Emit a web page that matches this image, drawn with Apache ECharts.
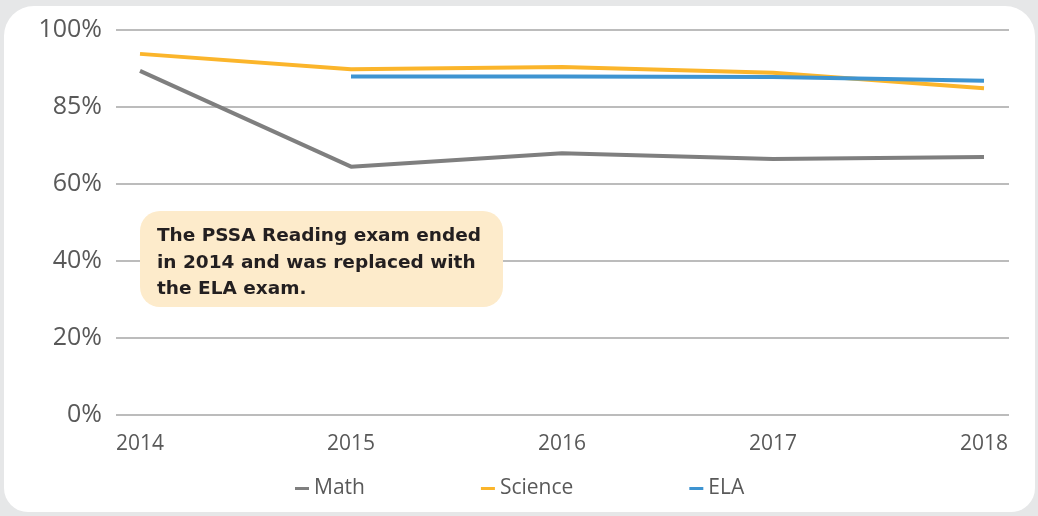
<!DOCTYPE html>
<html>
<head>
<meta charset="utf-8">
<script src="https://cdn.jsdelivr.net/npm/echarts@6/dist/echarts.min.js"></script>
<style>
  html, body { margin: 0; padding: 0; background: #e6e7e8; }
  #panel { position: absolute; left: 4px; top: 6px; width: 1031px; height: 506px; background: #fff; border-radius: 30px 30px 24px 24px; }
  #chart { position: absolute; left: 0; top: 0; width: 1038px; height: 516px; }
</style>
</head>
<body>
<div id="panel"></div>
<div id="chart"></div>
<script>
// data
const years = ['2014', '2015', '2016', '2017', '2018'];
const mathScores = [89.4, 64.5, 68.0, 66.5, 67.0];
const scienceScores = [93.8, 89.8, 90.4, 88.9, 84.9];
const elaScores = [null, 87.9, 87.9, 87.8, 86.8];
// the original axis labels (the fourth one reads 85%)
const yTickLabels = ['0%', '20%', '40%', '60%', '85%', '100%'];
const note = 'The PSSA Reading exam ended\nin 2014 and was replaced with\nthe ELA exam.';

const font = '"Open Sans", sans-serif';
const grey = '#595959';

const chart = echarts.init(document.getElementById('chart'));

const option = {
  backgroundColor: 'transparent',
  textStyle: { fontFamily: font },
  animation: false,
  grid: [
    { left: 116, right: 29, top: 30, bottom: 101 },
    { left: 140, right: 54, top: 30, bottom: 101 }
  ],
  xAxis: [
    { gridIndex: 0, type: 'value', min: 0, max: 1, show: false },
    {
      gridIndex: 1,
      type: 'category',
      data: years,
      boundaryGap: false,
      axisLine: { show: false },
      axisTick: { show: false },
      axisLabel: { color: grey, fontSize: 21, margin: 19, fontFamily: font }
    }
  ],
  yAxis: [
    {
      gridIndex: 0,
      type: 'value',
      min: 0,
      max: 100,
      interval: 20,
      axisLine: { show: false },
      axisTick: { show: false },
      axisLabel: {
        color: grey,
        fontSize: 25,
        margin: 14,
        fontFamily: font,
        formatter: v => yTickLabels[Math.round(v / 20)]
      },
      splitLine: { lineStyle: { color: '#a6a6a6', width: 1.5 } }
    },
    { gridIndex: 1, type: 'value', min: 0, max: 100, show: false }
  ],
  legend: {
    left: 290,
    top: 473,
    itemGap: 116,
    itemWidth: 14,
    itemHeight: 3,
    icon: 'rect',
    textStyle: { color: grey, fontSize: 21, fontFamily: font },
    data: ['Math', 'Science', 'ELA']
  },
  graphic: [
    {
      type: 'group',
      left: 140,
      top: 211,
      z: 100,
      children: [
        {
          type: 'rect',
          z: 100,
          shape: { x: 0, y: 0, width: 363, height: 96, r: 20 },
          style: { fill: '#fdebcb' }
        },
        {
          type: 'text',
          z: 101,
          left: 17,
          top: 12,
          style: {
            text: note,
            fill: '#231f20',
            font: 'bold 18.5px "DejaVu Sans", sans-serif',
            lineHeight: 26.5
          }
        }
      ]
    }
  ],
  series: [
    {
      name: 'Math',
      type: 'line',
      xAxisIndex: 1,
      yAxisIndex: 1,
      data: mathScores,
      symbol: 'none',
      lineStyle: { color: '#7f7f7f', width: 4 },
      itemStyle: { color: '#7f7f7f' }
    },
    {
      name: 'Science',
      type: 'line',
      xAxisIndex: 1,
      yAxisIndex: 1,
      data: scienceScores,
      symbol: 'none',
      lineStyle: { color: '#fbb52b', width: 4 },
      itemStyle: { color: '#fbb52b' }
    },
    {
      name: 'ELA',
      type: 'line',
      xAxisIndex: 1,
      yAxisIndex: 1,
      data: elaScores,
      symbol: 'none',
      lineStyle: { color: '#3e94d1', width: 4 },
      itemStyle: { color: '#3e94d1' }
    }
  ]
};

chart.setOption(option);
</script>
</body>
</html>
